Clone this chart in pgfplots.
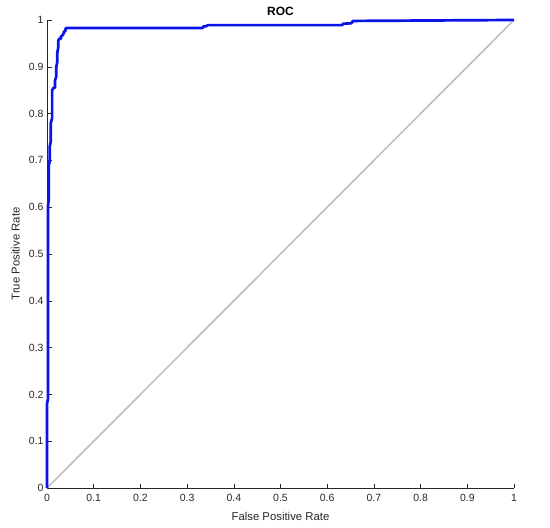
\documentclass[border=0pt]{standalone}
\usepackage{fontspec}
\setmainfont{Liberation Sans}
\usepackage{pgfplots}
\pgfplotsset{compat=1.18}
\definecolor{axgray}{HTML}{262626}
\definecolor{diaggray}{HTML}{C0C0C0}
\definecolor{rocblue}{HTML}{0A14E6}
\begin{document}
\begin{tikzpicture}
\useasboundingbox (-47bp,-40bp) rectangle (503bp,488bp);
\begin{axis}[
  scale only axis, width=467bp, height=468bp,
  xmin=0, xmax=1, ymin=0, ymax=1,
  axis x line*=bottom, axis y line*=left,
  axis line style={axgray, line width=0.5pt, -},
  tick align=inside, major tick length=4.5bp,
  tick style={axgray, line width=0.5pt},
  xtick={0,0.1,...,1}, ytick={0,0.1,...,1},
  xticklabels={0,0.1,0.2,0.3,0.4,0.5,0.6,0.7,0.8,0.9,1},
  yticklabels={0,0.1,0.2,0.3,0.4,0.5,0.6,0.7,0.8,0.9,1},
  tick label style={font=\fontsize{10.5}{12}\selectfont, text=axgray},
  xticklabel style={yshift=-3bp},
  label style={font=\fontsize{11.4}{13}\selectfont, text=axgray},
  xlabel={False Positive Rate}, ylabel={True Positive Rate},
  xlabel style={at={(axis description cs:0.5,-0.0684)}, anchor=base},
  ylabel style={at={(axis description cs:-0.0674,0.5)}, anchor=center},
  title={\textbf{ROC}},
  title style={font=\fontsize{12}{14}\selectfont, at={(axis description cs:0.5,1.0107)}, anchor=base, yshift=-6bp},
  clip=false,
]
\addplot[diaggray, line width=1.7bp] coordinates {(0,0) (1,1)};
\addplot[rocblue, line width=2.7bp, line join=round] coordinates {
  (0,0) (0,0.18) (0.002,0.19) (0.002,0.60) (0.004,0.62) (0.004,0.69)
  (0.006,0.70) (0.006,0.73) (0.008,0.74) (0.008,0.78) (0.011,0.79)
  (0.011,0.85) (0.014,0.855) (0.017,0.855) (0.017,0.87) (0.020,0.88)
  (0.020,0.90) (0.022,0.91) (0.022,0.93) (0.024,0.94) (0.024,0.955)
  (0.026,0.96) (0.030,0.96) (0.030,0.965) (0.034,0.968) (0.036,0.972)
  (0.036,0.975) (0.039,0.976) (0.040,0.982) (0.042,0.983)
  (0.333,0.983) (0.335,0.986) (0.342,0.987) (0.344,0.989)
  (0.632,0.989) (0.634,0.992) (0.652,0.993) (0.655,0.998)
  (1,1)};
\end{axis}
\end{tikzpicture}
\end{document}
